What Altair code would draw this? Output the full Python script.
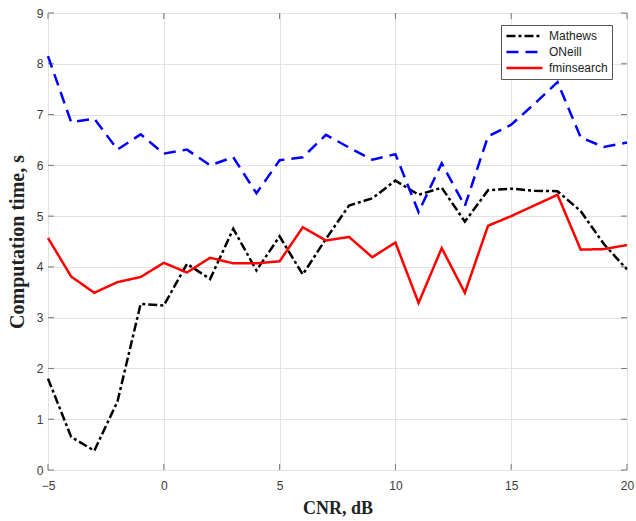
import altair as alt
import pandas as pd

# CNR sweep (dB) and computation time (s) for each estimator
cnr = list(range(-5, 21))
mathews = [1.80, 0.65, 0.38, 1.35, 3.27, 3.24, 4.06, 3.76, 4.75, 3.93, 4.60, 3.85,
           4.55, 5.21, 5.35, 5.70, 5.42, 5.56, 4.89, 5.51, 5.54, 5.50, 5.49, 5.10,
           4.45, 3.95]
oneill = [8.15, 6.85, 6.92, 6.31, 6.61, 6.23, 6.31, 6.00, 6.16, 5.45, 6.10, 6.16,
          6.60, 6.35, 6.11, 6.22, 5.08, 6.04, 5.20, 6.57, 6.80, 7.21, 7.64, 6.55,
          6.36, 6.45]
fmin = [4.57, 3.81, 3.49, 3.70, 3.80, 4.08, 3.89, 4.18, 4.07, 4.07, 4.11, 4.78,
        4.52, 4.59, 4.19, 4.48, 3.29, 4.37, 3.49, 4.81, 5.00, 5.21, 5.42, 4.34,
        4.35, 4.43]

series_names = ["Mathews", "ONeill", "fminsearch"]
series_colors = ["#000000", "#0000ff", "#ff0000"]
series_dashes = [[9, 3, 3, 3], [12, 7], [1, 0]]

x_ticks = [-5, 0, 5, 10, 15, 20]
y_ticks = list(range(0, 10))

W, H = 579, 457

rows = []
for name, vals in zip(series_names, [mathews, oneill, fmin]):
    for xv, yv in zip(cnr, vals):
        rows.append({"cnr": xv, "time": yv, "method": name})
df = pd.DataFrame(rows)

xscale = alt.Scale(domain=[-5, 20], nice=False, zero=False)
yscale = alt.Scale(domain=[0, 9], nice=False, zero=False)

label_font = "Liberation Sans"
title_font = "Liberation Serif"

x_axis = alt.Axis(values=x_ticks, title="CNR, dB", grid=True, ticks=False,
                  domain=False, labelFont=label_font, labelFontSize=12,
                  labelColor="#3a3a3a", labelPadding=10, titleFont=title_font,
                  titleFontSize=18, titleFontWeight="bold", titleColor="#222222",
                  titlePadding=8, gridColor="#e3e3e3", labelFlush=False)
y_axis = alt.Axis(values=y_ticks, title="Computation time, s", grid=True,
                  ticks=False, domain=False, labelFont=label_font,
                  labelFontSize=12, labelColor="#3a3a3a", labelPadding=5,
                  titleFont=title_font, titleFontSize=20, titleFontWeight="bold",
                  titleColor="#222222", titlePadding=9, gridColor="#e3e3e3")

lines = alt.Chart(df).mark_line(strokeWidth=2.5).encode(
    x=alt.X("cnr:Q", scale=xscale, axis=x_axis),
    y=alt.Y("time:Q", scale=yscale, axis=y_axis),
    color=alt.Color("method:N",
                    scale=alt.Scale(domain=series_names, range=series_colors),
                    legend=alt.Legend(title=None, orient="none", legendX=453,
                                      legendY=12, fillColor="white",
                                      strokeColor="#555555", padding=4,
                                      symbolType="stroke", symbolSize=1300,
                                      symbolStrokeWidth=2.5, clipHeight=14,
                                      labelFont=label_font, labelFontSize=12,
                                      labelColor="#222222", labelOffset=5,
                                      rowPadding=2)),
    strokeDash=alt.StrokeDash("method:N",
                              scale=alt.Scale(domain=series_names,
                                              range=series_dashes),
                              legend=None),
    order=alt.Order("cnr:Q"),
)

xt = pd.DataFrame({"v": x_ticks})
yt = pd.DataFrame({"v": y_ticks})
tick_color = "#777777"
tick_len = 6

bottom_ticks = alt.Chart(xt).mark_rule(color=tick_color).encode(
    x=alt.X("v:Q", scale=xscale), y=alt.value(H - tick_len), y2=alt.value(H))
top_ticks = alt.Chart(xt).mark_rule(color=tick_color).encode(
    x=alt.X("v:Q", scale=xscale), y=alt.value(0), y2=alt.value(tick_len))
left_ticks = alt.Chart(yt).mark_rule(color=tick_color).encode(
    y=alt.Y("v:Q", scale=yscale), x=alt.value(0), x2=alt.value(tick_len))
right_ticks = alt.Chart(yt).mark_rule(color=tick_color).encode(
    y=alt.Y("v:Q", scale=yscale), x=alt.value(W - tick_len), x2=alt.value(W))

chart = alt.layer(
    bottom_ticks, top_ticks, left_ticks, right_ticks, lines
).properties(
    width=W, height=H,
    autosize=alt.AutoSizeParams(type="none"),
    padding={"left": 48, "top": 13, "right": 9, "bottom": 51},
).configure_view(
    stroke="#808080", strokeWidth=1
).configure(background="white")

chart.save("out.html", embed_options={"renderer": "svg", "actions": False})
